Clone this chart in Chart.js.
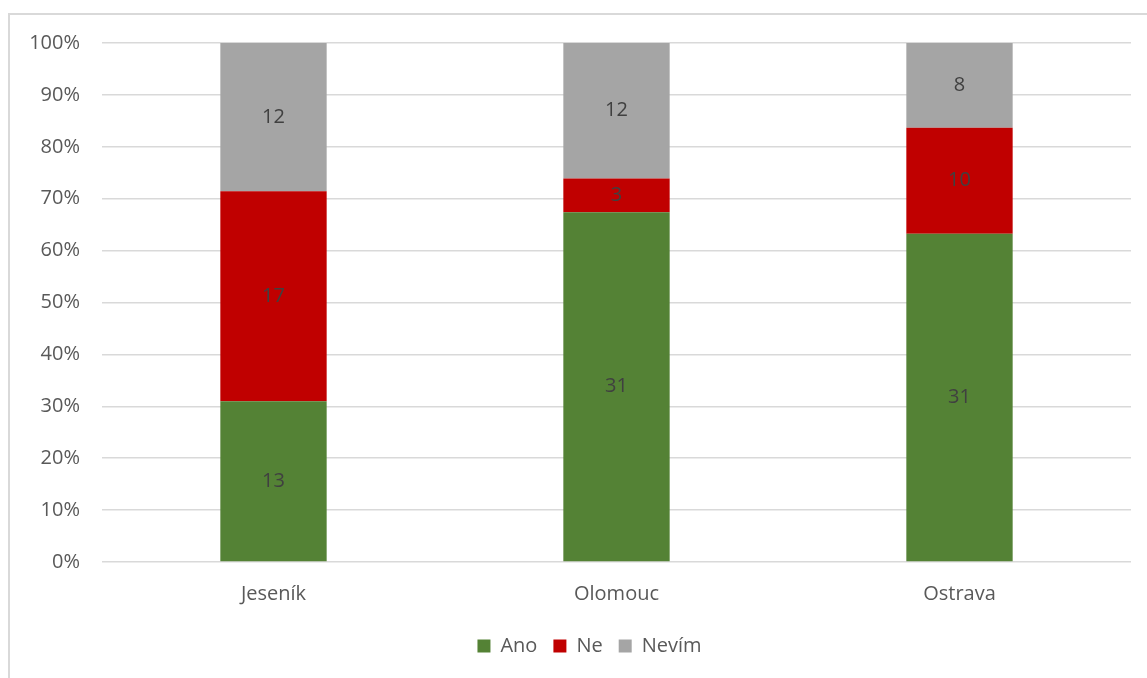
<!DOCTYPE html>
<html lang="cs">
<head>
  <meta charset="UTF-8" />
  <title>Ano / Ne / Nevím</title>
  <script src="https://cdn.jsdelivr.net/npm/chart.js"></script>
  <style>
    * { margin: 0; padding: 0; box-sizing: border-box; }
    body { width: 1147px; height: 678px; overflow: hidden; background: #fff; position: relative; }
    .frame {
      position: absolute; left: 8px; top: 13px; width: 1200px; height: 700px;
      border: 2px solid #d9d9d9;
    }
    .wrap { position: absolute; left: 0; top: 0; width: 1147px; height: 678px; }
  </style>
</head>
<body>
  <div class="frame"></div>
  <div class="wrap"><canvas id="chart"></canvas></div>

  <script>
    const cities = ['Jeseník', 'Olomouc', 'Ostrava'];
    const ano = [13, 31, 31];
    const ne = [17, 3, 10];
    const nevim = [12, 12, 8];

    const totals = cities.map((c, i) => ano[i] + ne[i] + nevim[i]);
    const pct = arr => arr.map((v, i) => v / totals[i] * 100);

    // draws the raw count in the middle of each segment
    const countLabels = {
      id: 'countLabels',
      afterDatasetsDraw(chart) {
        const ctx = chart.ctx;
        ctx.save();
        ctx.font = '20px "Open Sans"';
        ctx.fillStyle = '#404040';
        ctx.textAlign = 'center';
        ctx.textBaseline = 'middle';
        chart.data.datasets.forEach((ds, di) => {
          chart.getDatasetMeta(di).data.forEach((bar, i) => {
            ctx.fillText(ds.counts[i], bar.x, (bar.y + bar.base) / 2);
          });
        });
        ctx.restore();
      }
    };

    // legend sits a bit right of the canvas centre in the original
    const legendShift = {
      id: 'legendShift',
      afterLayout(chart) {
        chart.legend.left += 24;
        chart.legend.right += 24;
      }
    };

    Chart.defaults.font.family = '"Open Sans", sans-serif';
    Chart.defaults.font.size = 20;
    Chart.defaults.color = '#595959';

    new Chart(document.getElementById('chart'), {
      type: 'bar',
      data: {
        labels: cities,
        datasets: [
          { label: 'Ano', data: pct(ano), counts: ano, backgroundColor: '#548235' },
          { label: 'Ne', data: pct(ne), counts: ne, backgroundColor: '#c00000' },
          { label: 'Nevím', data: pct(nevim), counts: nevim, backgroundColor: '#a5a5a5' }
        ]
      },
      options: {
        responsive: true,
        maintainAspectRatio: false,
        animation: false,
        barPercentage: 0.31,
        categoryPercentage: 1,
        layout: { padding: { top: 43, right: 16, left: 0, bottom: 12 } },
        plugins: {
          legend: {
            position: 'bottom',
            labels: { boxWidth: 13, boxHeight: 13, padding: 16, color: '#595959' }
          },
          tooltip: { enabled: false }
        },
        scales: {
          x: {
            stacked: true,
            grid: { display: false },
            border: { display: false },
            ticks: { padding: 12 },
            afterFit: s => { s.height += 2; }
          },
          y: {
            stacked: true,
            min: 0,
            max: 100,
            ticks: { stepSize: 10, padding: 22, callback: v => v + '%' },
            grid: { color: '#d9d9d9', lineWidth: 1.5, drawTicks: false },
            border: { display: false },
            afterFit: s => { s.width = 102; }
          }
        }
      },
      plugins: [countLabels, legendShift]
    });
  </script>
</body>
</html>
